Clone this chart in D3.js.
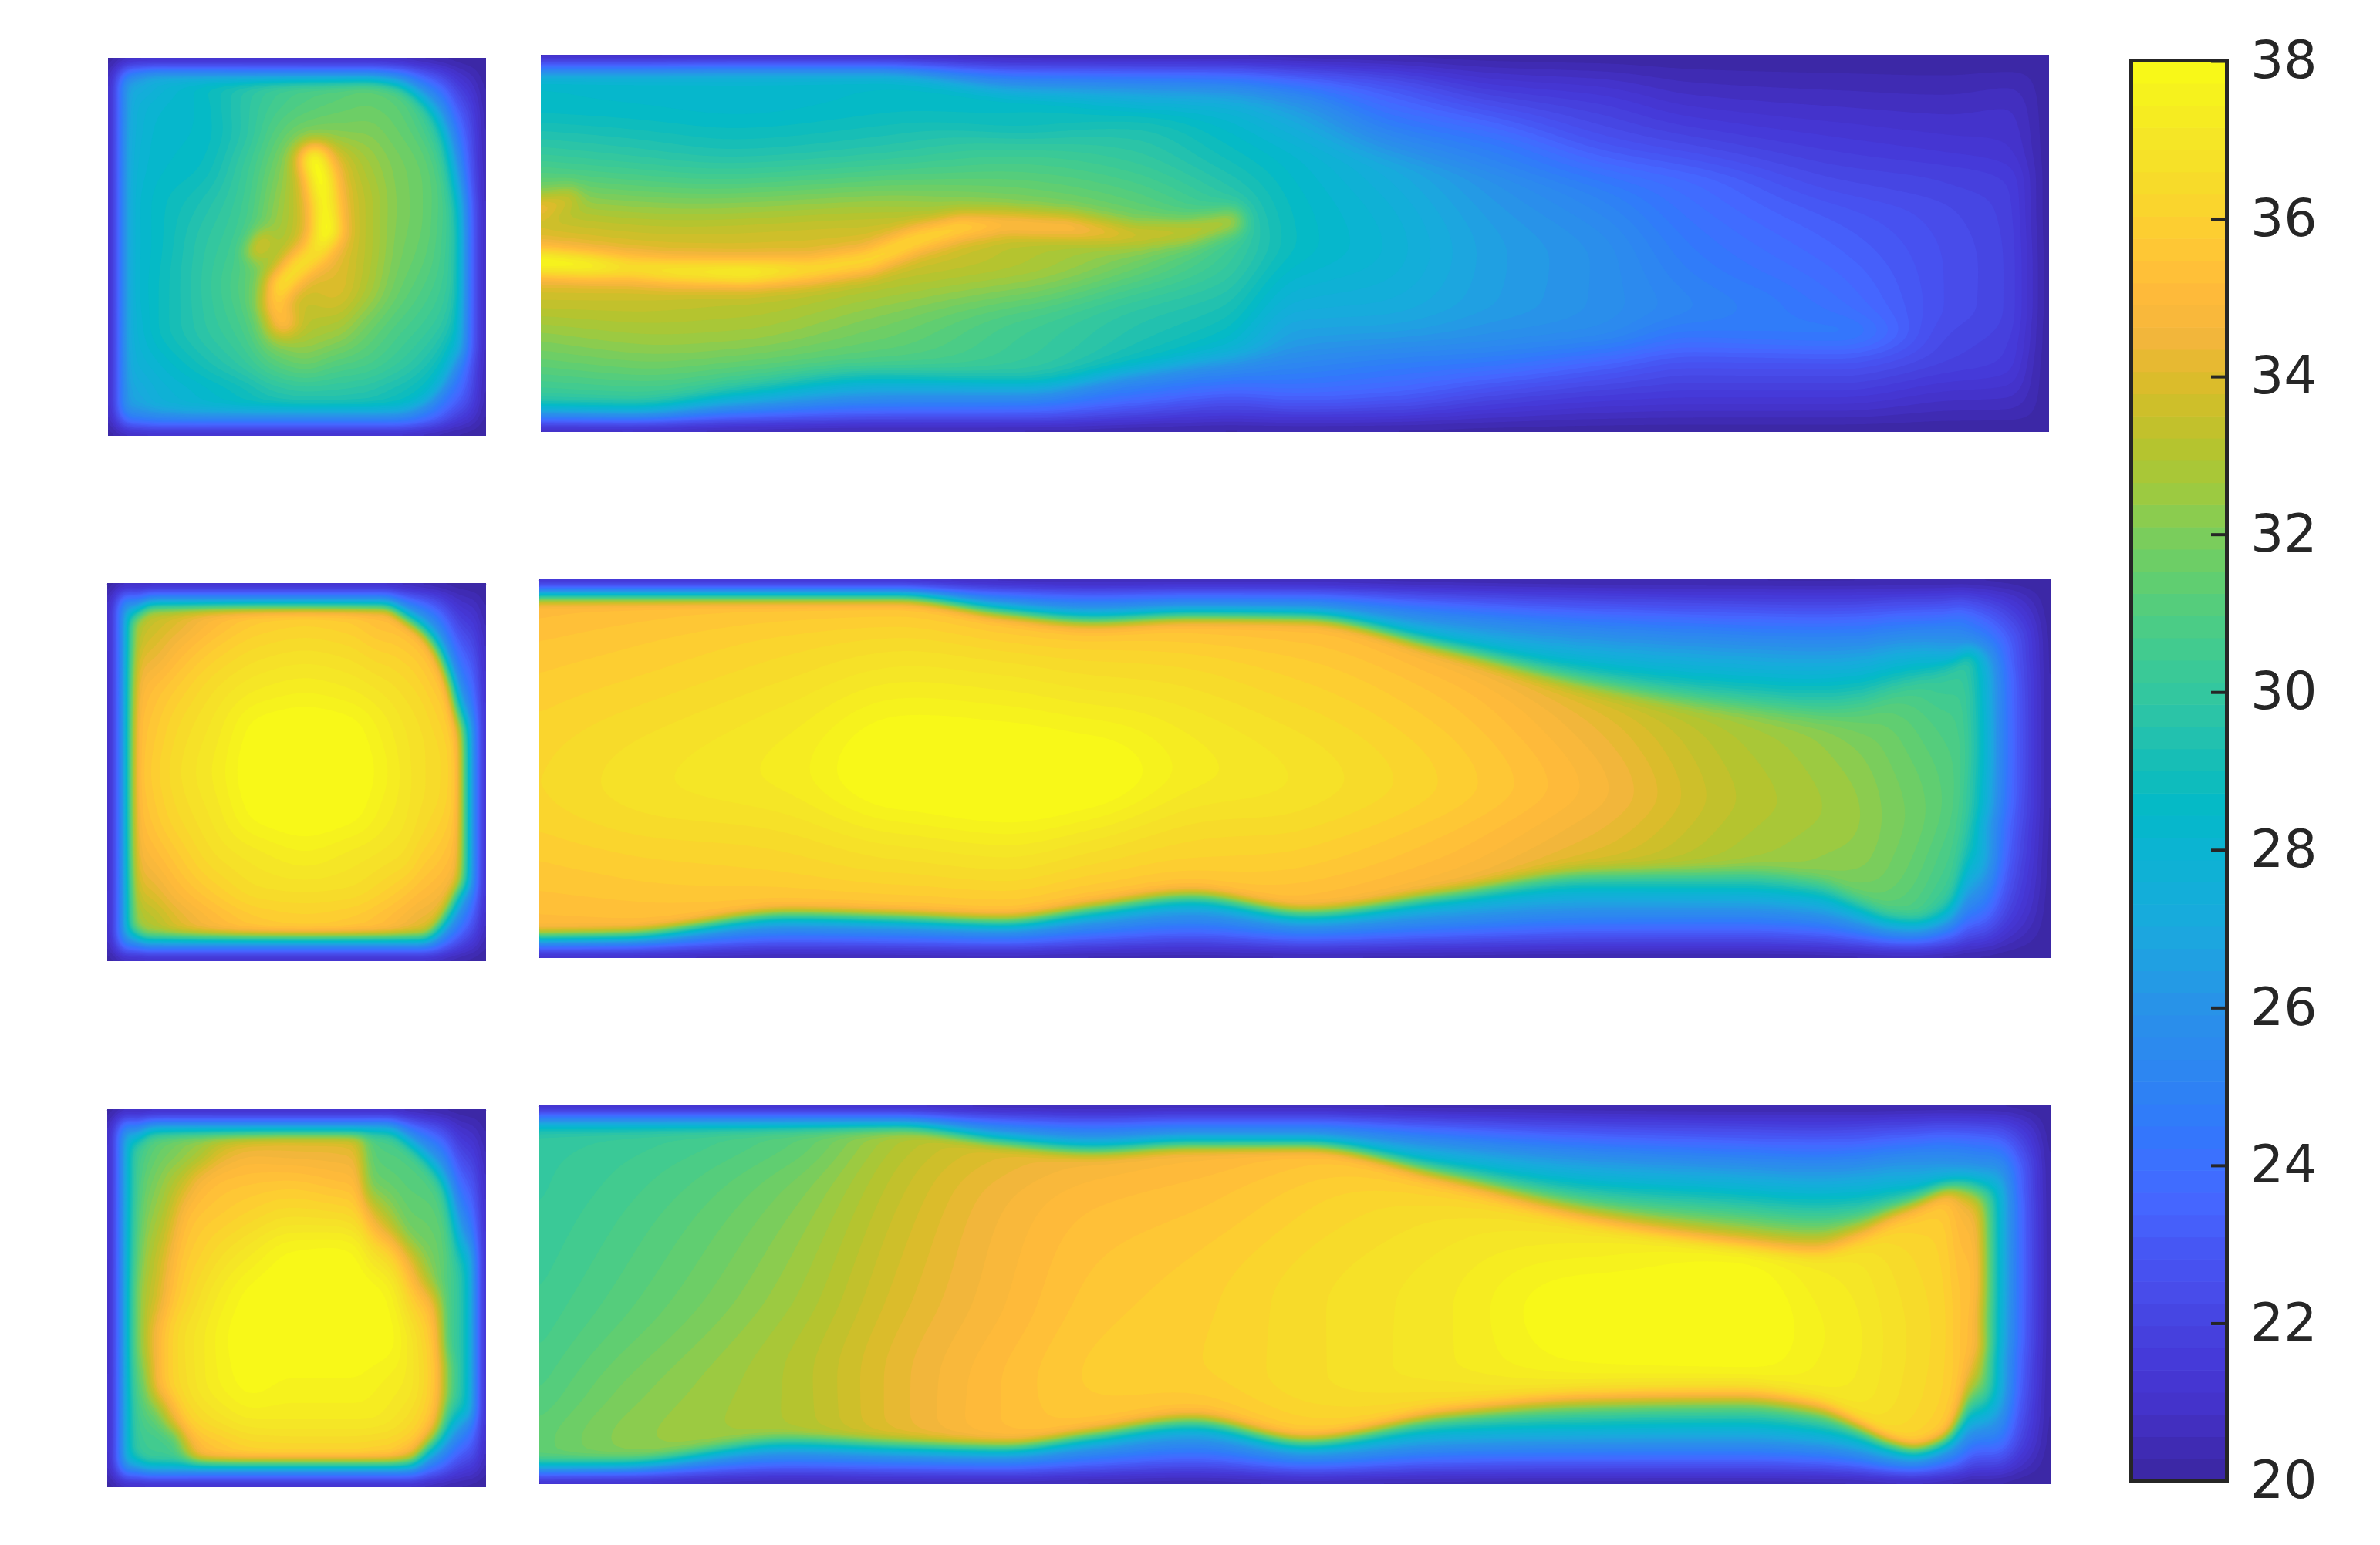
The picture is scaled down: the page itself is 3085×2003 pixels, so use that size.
<!DOCTYPE html>
<html><head><meta charset="utf-8">
<script src="https://cdn.jsdelivr.net/npm/d3@7"></script>
<style>html,body{margin:0;padding:0;background:#fff}svg{display:block}</style>
</head><body>
<svg id="c" width="3085" height="2003"></svg>
<script>
// colour map
const cmapValues=[20,20.5,21,21.5,22,22.5,23,23.5,24,24.5,25,26,27,28,28.5,29,29.5,30,30.5,31,31.5,32,32.5,33,33.5,34,34.5,35,35.5,36,36.5,37,37.5,38];
const cmapColors=["#3a27a0","#402cb6","#4433cc","#4539d8","#4644e0","#484eed","#4658f5","#4566ff","#3d70ff","#3179fb","#2e83f3","#2992e8","#1aa9de","#0bb4d2","#02b9c8","#12bdb9","#25c2ad","#33c79f","#40cb90","#50cd80","#65ce6d","#7ccd5a","#9bca42","#b2c530","#c8c02a","#dfbb2b","#f3b63c","#feb93a","#ffc437","#fcd12f","#f7dc2a","#f5e626","#f6f01e","#f9fb15"];
const tickLabels=[20,22,24,26,28,30,32,34,36,38];

// row layouts across each panel (fractions between the walls)
const rowsNarrow=[0,.06,.2,.55,.8,.94,1];
const rowsFine=[0,.06,.14,.25,.37,.5,.62,.75,.87,.94,1];

// top right panel
const aX=[0,60,130,221,319,390,449,499,560,627,700,758,855,927,968,987,994];
const aTop=[17,17,17,17,31,33,35,40,50,60,70,75,80,80,80,80,80];
const aBot=[230,231,222,215,217,205,195,190,190,190,190,190,190,190,190,190,190];
const aT=[
[20,23.7,27.3,28.4,28.5,29.8,34.3,32.2,30.6,29.5,28,24,20],
[20,23.7,27.3,28.3,28.4,29.5,34,32.5,30.8,29.5,28,24,20],
[20,24,27.3,28.3,28.3,29.1,33.8,32.7,31,29.3,27.8,24,20],
[20,24,27.3,28.4,28.5,29.4,33.8,32,30.8,28.6,27,23.8,20],
[20,24,27.3,28.6,28.8,30.5,33,30.5,30,28.6,26.5,23.5,20],
[20,24,27,28,29,30,32,29.8,29.2,28.5,26,23.3,20],
[20,24,26.8,27.7,28.3,29,30.5,29.4,28.6,28,26,23,20],
[20,23.5,26,26.7,27.3,28.2,28.7,27.7,26.8,26.4,25.5,23.5,20],
[20,22.8,24.3,25.1,25.8,27.2,27.8,27.3,26.6,26,25,23.2,20],
[20,21.8,23.7,24.6,25,26,26.6,26.5,26,25.6,24.6,22.3,20],
[20,21.5,22.7,23.6,24.1,25,25.8,25.8,25.5,25,23.7,21.7,20],
[20,21,22.3,23.2,23.6,24,24.7,25.1,24.5,24,22.9,21.5,20],
[20,20.8,21.7,22.2,22.4,22.9,23.6,24.1,24.6,24.2,23,21.5,20],
[20,20.7,21.4,21.9,22,22.3,22.5,22.5,22.3,22.2,22,21,20],
[20,20.8,21.2,21.6,21.7,21.8,21.9,21.9,21.8,21.7,21.6,20.9,20],
[20.1,20.3,20.4,20.5,20.5,20.5,20.6,20.6,20.5,20.5,20.4,20.3,20.1],
[20,20,20,20,20,20,20,20,20,20,20,20,20]];
const aStreak=[[0,137,38.3],[27,139,38],[59,141,36.8],[85,143,37.2],[134,144,37.8],[176,142,36.6],[215,136,36.5],[247,122,36.4],[276,114,36.2],[306,112,35.2],[348,114,35.2],[390,119,33.8],[426,117,33.5],[455,110,33]];
const aSpot=[[0,101,34.6],[18,95,33.6]];

// middle right panel
const bX=[0,55,165,235,305,365,430,505,596,694,791,842,870,890,907,927,936,942,952,968,996];
const bTop=[13,13,13,13,24,30,27,28,50,76,92,96,90,80,72,63,58,52,52,52,52];
const bBot=[233,232,217,219,222,213,204,216,203,188,187,194,208,218,221,213,196,160,160,160,160];
const bT=[
[20,24,28.5,34.8,35.2,35.7,36.3,35.7,35.2,34.8,28.5,24,20],
[20,24,28.5,34.9,35.4,35.9,36.7,35.9,35.3,34.8,28.5,24,20],
[20,24,28.5,35,35.7,36.4,37.3,36.4,35.7,35,28.5,24,20],
[20,24,28.5,35,35.8,36.8,38.2,36.8,35.8,35,28.5,24,20],
[20,24,28.5,34.9,35.8,36.9,38.3,36.9,35.8,34.9,28.5,24,20],
[20,24,28.5,34.8,35.8,36.7,38.1,36.7,35.7,34.9,28.5,24,20],
[20,24,28.5,34.9,35.6,36.4,37.3,36.4,35.7,35,28.5,24,20],
[20,24,28.5,34.9,35.4,36,36.8,36,35.3,34.8,28.5,24,20],
[20,24.5,28.8,34.5,35,35.5,36,35.4,34.9,34.5,28.8,24.4,20],
[20,25,29.3,33.6,34,34.4,34.8,34.4,34,33.6,29.3,24.8,20],
[20,25.2,29.5,32.6,32.8,33,33.2,33,32.8,32.6,29.5,24.8,20],
[20,25.2,29.5,32,32.3,32.5,32.7,32.5,32.3,32,29.3,24.8,20],
[20,25,29.2,31.3,31.7,32.1,32.4,32.2,31.8,31.4,29,24.6,20],
[20,24.8,28.9,30.9,31.3,31.7,32,31.8,31.4,30.9,28.8,24.4,20],
[20,24.5,28.5,30.5,30.9,31.3,31.7,31.4,31,30.7,28.5,24.2,20],
[20,24.1,27.5,30,30.3,30.8,31.2,30.8,30.4,30,28.5,24,20],
[20,24,26.8,30,30.2,30.6,30.9,30.6,30.3,30,28.5,24.6,20],
[20,23.5,26.3,29.8,29.9,30.1,30.3,30.1,30,29.8,29,25.5,20],
[20,23,25.5,27.5,28,28.3,28.5,28.3,28,27.5,27.5,24.8,20],
[20,22,23.5,23.8,24,24.2,24.3,24.2,24,23.8,23.5,22.3,20],
[20,20,20,20,20,20,20,20,20,20,20,20,20]];

// bottom right panel
const cX=[0,55,165,235,305,365,430,505,596,694,791,842,870,890,907,927,938,946,962,975,996];
const cTop=[16,16,16,16,27,33,29,29,50,75,90,95,88,78,70,60,57,55,55,55,55];
const cBot=[234,233,217,220,222,213,203,218,200,190,188,195,208,219,224,217,200,165,165,165,165];
const cT=[
[20,24,28,29.8,30,30.1,30.5,31,31.4,31.3,28.3,24,20],
[20,24,28,30,30.3,30.6,31.2,31.9,32.2,31.9,28.4,24,20],
[20,24,28.2,31,31.3,31.9,32.6,33,33,32.8,28.5,24,20],
[20,24,28.4,32.6,33,33.4,33.9,34.2,34.2,33.7,28.5,24,20],
[20,24,28.5,33.8,34.2,34.6,34.9,35.2,35.2,34.6,28.5,24,20],
[20,24,28.5,34.4,34.8,35.2,35.6,35.8,35.6,34.9,28.5,24,20],
[20,24,28.5,34.6,35,35.4,35.9,36,35.7,35,28.5,24,20],
[20,24,28.5,35,35.5,36,36.5,36.5,36,35.2,28.8,24.2,20],
[20,24.7,29.5,35,36,36.7,37.1,37.1,36.5,35.5,30,24.8,20],
[20,25.2,30.3,35,36.7,37.4,38.1,37.8,37,35.6,31,25.4,20],
[20,25.4,31,35,37.3,37.9,38.2,37.9,37,35.8,31,25.5,20],
[20,25.4,31,35,36.9,37.3,37.5,37.4,37,35.8,31,25.4,20],
[20,25.2,30.5,35.4,36.6,37,37.2,37.1,36.7,35.8,30.2,25,20],
[20,25,29.8,35.4,36.2,36.6,36.8,36.7,36.4,35.7,29.5,24.8,20],
[20,24.7,29,35.2,35.9,36.3,36.5,36.4,36.1,35.3,29,24.5,20],
[20,24.3,28,35,35.6,35.9,36.1,36,35.7,35,28.6,24.2,20],
[20,24,27.5,33,34.5,35,35.4,35.4,35,34.5,28.6,24.7,20],
[20,23.8,27,31,33.5,34.8,35.3,35,35,34.5,33,25.8,20],
[20,23.5,26.5,28,28.5,28.6,28.7,28.6,28.5,28.2,28.2,25.2,20],
[20,22.3,23.8,24,24.2,24.3,24.4,24.3,24.2,24,23.8,22.6,20],
[20,20,20,20,20,20,20,20,20,20,20,20,20]];

// top left panel
const dX=[0,7,13,17,30,60,90,110,130,150,170,190,209,223,232,238,244,249];
const dTop=[17,17,17,19,17,17,17,17,17,17,17,20,35,60,99,99,99,99];
const dBot=[231,231,231,231,231,231,231,231,231,231,231,231,225,210,190,190,190,190];
const dT=[
[20,20,20,20,20,20,20,20,20,20,20,20,20,20,20,20,20],
[20,22,23.5,24,24,24,24,24,24,24,24,24,24,24,23.5,22,20],
[20,23.5,26,27,27.2,27.4,27.5,27.5,27.5,27.5,27.5,27.3,27,26.6,25.5,23.5,20],
[20,24,26.5,27,27.5,27.6,27.8,28,28,28,27.8,27.5,27,26.5,25.5,23.5,20],
[20,24,27.5,27.5,28,28.2,28.3,28.5,28.5,28.6,28.6,28,27.6,27.3,26,24,20],
[20,24,27.7,28.6,28.5,28.5,28.7,29.3,29.7,29.8,29.7,29,28.3,28,26.5,24,20],
[20,24,27.7,29.5,29.7,29.7,30.2,30.5,30.8,31.2,30.8,30,29,28.5,26.5,24,20],
[20,24,27.7,30.2,30.5,31,31.7,32.2,32.5,32.6,32.4,31,29.7,28.7,26.5,24,20],
[20,24,27.7,30.6,31,31.8,33.2,33.5,33.5,33.5,33,31.5,30,28.8,26.5,24,20],
[20,24,27.7,30.8,31.3,32,33.8,34,34,34,32.8,31,29.9,28.8,26.5,24,20],
[20,24,27.7,31.2,31.5,32,32.8,33.2,33.2,33,31.8,30.7,29.7,28.8,26.5,24,20],
[20,24,27.8,30.8,31.3,31.6,32,32.1,32,31.7,30.9,30.1,29.2,28.5,26.3,24,20],
[20,24,27.8,30.3,30.6,31.2,31.5,31.5,31.3,30.9,30.3,29.5,28.8,28.1,26,23.8,20],
[20,24,27.3,29.3,29.9,30.3,30.6,30.5,30.4,30.2,29.8,29,28.4,27.6,25.5,23.5,20],
[20,23.5,26.5,28.3,28.6,28.8,29,29,29,28.9,28.6,28.4,28.1,27.8,25.5,23.3,20],
[20,22.3,23.4,24,24,24.1,24.1,24.1,24.1,24.1,24.1,24,24,24,23.4,22.3,20],
[20,21.3,21.8,22.2,22.3,22.3,22.3,22.3,22.3,22.3,22.3,22.3,22.3,22.2,21.8,21.3,20],
[20,20,20,20,20,20,20,20,20,20,20,20,20,20,20,20,20]];
const dStreak=[[136,67,38.4],[140,79,38.4],[143,97,37.9],[144,114,38.4],[137,128,36.8],[125,138,36.8],[114,150,36.8],[111,162,35.7],[115,174,35.4]];
const dSpot=[[102,121,34],[98,127,34]];

// middle left panel
const eX=[0,7,13,17,22,29,45,70,100,130,160,183,197,209,218,226,233,237,244,249];
const eTop=[17,17,17,26,20,17,17,17,17,17,17,17,26,36,50,72,99,99,99,99];
const eBot=[232,232,232,226,232,232,232,232,232,232,232,232,232,232,224,210,196,196,196,196];
const eT=[
[20,20,20,20,20,20,20,20,20,20,20,20,20,20,20,20,20],
[20,22,23.5,24,24,24,24,24,24,24,24,24,24,24,23.5,22,20],
[20,24,27,28.5,28.6,28.6,28.7,28.7,28.7,28.7,28.7,28.6,28.6,28.5,27,24,20],
[20,24,27.8,32.7,33.1,33.8,34.5,35,35.1,34.9,34.4,33.5,32.8,32.3,28,24,20],
[20,24,28.5,32.9,33.4,34.1,34.9,35.3,35.4,35.2,34.7,33.8,33,32.4,28.5,24,20],
[20,24,28.5,33,33.6,34.2,35.2,35.6,35.8,35.6,35,34,33.2,32.6,28.5,24,20],
[20,24,28.5,33.5,34.2,35,35.8,36.3,36.5,36.3,35.7,34.9,34.1,33.5,28.5,24,20],
[20,24,28.5,34.5,35.2,35.9,36.6,37,37.2,37,36.6,35.8,35.1,34.5,28.5,24,20],
[20,24,28.5,35.2,35.9,36.5,37.2,37.9,38.05,37.9,37.1,36.5,35.8,35.2,28.5,24,20],
[20,24,28.5,35.4,36.1,36.7,37.4,38.05,38.1,38.05,37.4,36.6,36,35.4,28.5,24,20],
[20,24,28.5,35.2,35.9,36.5,37.2,37.9,38.05,37.9,37.1,36.5,35.8,35.2,28.5,24,20],
[20,24,28.5,34.8,35.4,36.1,36.8,37.3,37.5,37.3,36.8,36,35.3,34.8,28.5,24,20],
[20,24,28.5,34.8,35.5,36.1,36.6,36.9,37,36.9,36.5,35.5,34.8,34.1,28.5,24,20],
[20,24,28.3,34.9,35.4,35.9,36.4,36.6,36.6,36.4,35.8,35,34.3,33.6,28.5,24,20],
[20,24,28,35,35.3,35.7,36.1,36.4,36.4,36.1,35.6,34.9,34.3,33.8,28.4,24.5,20],
[20,23.5,27.5,35.3,35.5,35.7,35.9,36,35.9,35.7,35.3,34.9,34.5,34,28.4,24.5,20],
[20,23,27,33.8,34.6,35,35.1,35.2,35.2,35.1,35,34.7,34.2,33.5,28,24.2,20],
[20,22.6,25.5,28.5,28.6,28.7,28.7,28.7,28.7,28.7,28.7,28.7,28.6,28.5,26,23,20],
[20,22,23.5,24,24,24.1,24.1,24.1,24.1,24.1,24.1,24.1,24,24,23.5,22,20],
[20,20,20,20,20,20,20,20,20,20,20,20,20,20,20,20,20]];

// bottom left panel
const fX=[0,7,13,17,24,32,38,44,50,60,75,95,120,150,165,172,185,200,212,218,224,233,238,244,249];
const fTop=[17,17,17,26,19,17,17,17,17,17,17,17,17,17,17,17,17,28,41,50,62,101,101,101,101];
const fBot=[232,232,232,227,232,232,232,232,232,232,232,232,232,232,232,232,232,232,222,217,208,198,198,198,198];
const fT=[
[20,20,20,20,20,20,20,20,20,20,20,20,20,20,20,20,20],
[20,22,23.5,24,24,24,24,24,24,24,24,24,24,24,23.5,22,20],
[20,24,27,28.5,28.6,28.6,28.7,28.7,28.7,28.7,28.7,28.6,28.6,28.5,27,24,20],
[20,24,27.8,30,30.2,30.2,30.4,30.8,31.3,31.3,30.8,30.2,30,29.5,27.8,24,20],
[20,24,28.3,30.5,31,31.5,32,32.5,33,33,32,31,30.5,30.3,28.2,24,20],
[20,24,28.5,31,31.5,32,32.6,33.3,33.7,34.8,34.8,31.5,30.5,30.3,28.3,24,20],
[20,24,28.5,31.2,31.8,32.5,33.2,34,34.8,35.6,35.6,33,30.8,30.3,28.4,24,20],
[20,24,28.5,31.5,32,33,34,35,35.6,36.2,36.2,34.5,31,30.3,28.5,24,20],
[20,24,28.5,31.8,32.3,33.5,35,35.6,36,36.6,36.5,35.7,33.5,30.8,28.5,24,20],
[20,24,28.5,32,32.8,34.6,35.5,36,36.6,37,37,36.3,35.3,34,28.5,24,20],
[20,24,28.5,32.5,34,35.2,35.8,36.6,37.3,37.6,37.5,36.8,35.8,35,28.5,24,20],
[20,24,28.5,33,34.6,35.4,36.2,37.2,37.9,38.05,37.9,37.2,36.3,35.2,28.5,24,20],
[20,24,28.5,33.5,34.5,35.5,36.6,37.8,38.1,38.1,37.7,37.2,36.4,35.2,28.5,24,20],
[20,24,28.5,33.5,34.4,35.2,36.5,37.9,38.1,38.1,37.7,37.2,36.4,35.2,28.5,24,20],
[20,24,28.5,33,34.2,35,36.2,37.7,38.1,38.05,37.7,37.2,36.4,35.2,28.5,24,20],
[20,24,28.5,31,31.5,32,34.8,37,38,38,37.6,37.2,36.3,35.1,28.5,24,20],
[20,24,28.3,30.5,31,31.5,33,36.2,37.7,37.9,37.4,37,36.2,35,28.5,24,20],
[20,24,27.8,30.7,31,31.3,31.8,34.5,36.2,37,37,36.4,35.6,33,28,24,20],
[20,24,27.5,30.8,31,31.4,31.7,32.5,35.2,35.8,36,35.7,35,31.5,27.5,24,20],
[20,24,27.5,30.8,31,31.3,31.6,31.8,34,35,35.3,35,34,30.5,27.5,24,20],
[20,23.8,27.3,30.3,30.6,31,31,31,30.8,30.8,32,32,30.5,29.5,27.3,23.8,20],
[20,23,26.5,29,29.5,29.7,29.8,29.9,29.9,29.9,29.8,29.7,29.5,29,26.5,23,20],
[20,22.6,25.5,28.3,28.5,28.6,28.6,28.6,28.6,28.6,28.6,28.6,28.5,28.3,25.5,22.6,20],
[20,22,23.5,24,24,24.1,24.1,24.1,24.1,24.1,24.1,24.1,24,24,23.5,22,20],
[20,20,20,20,20,20,20,20,20,20,20,20,20,20,20,20,20]];

const panels=[
 {box:[140,75,630,565],w:249,h:249,xs:dX,top:dTop,bot:dBot,T:dT,rows:rowsFine,ridges:[{pts:dStreak,s:7},{pts:dSpot,s:5}]},
 {box:[701,71,2656,560],w:994,h:249,xs:aX,top:aTop,bot:aBot,T:aT,rows:rowsNarrow,ridges:[{pts:aStreak,s:6},{pts:aSpot,s:5}]},
 {box:[139,756,630,1246],w:249,h:249,xs:eX,top:eTop,bot:eBot,T:eT,rows:rowsFine,ridges:[]},
 {box:[699,751,2658,1242],w:996,h:249,xs:bX,top:bTop,bot:bBot,T:bT,rows:rowsNarrow,ridges:[]},
 {box:[139,1438,630,1928],w:249,h:249,xs:fX,top:fTop,bot:fBot,T:fT,rows:rowsFine,ridges:[]},
 {box:[699,1433,2658,1924],w:996,h:249,xs:cX,top:cTop,bot:cBot,T:cT,rows:rowsNarrow,ridges:[]}
];

const color=d3.scaleLinear().domain(cmapValues).range(cmapColors).clamp(true);
const nLevels=64, lo=20, hi=38, dv=(hi-lo)/nLevels;
const levels=d3.range(nLevels).map(k=>lo+k*dv);
const svg=d3.select("#c");

// monotone cubic through data rows
function mono(xs,ys){
  const n=xs.length,h=[],d=[],m=new Array(n);
  for(let i=0;i<n-1;i++){h[i]=xs[i+1]-xs[i];d[i]=(ys[i+1]-ys[i])/h[i];}
  m[0]=d[0];m[n-1]=d[n-2];
  for(let i=1;i<n-1;i++){
    if(d[i-1]*d[i]<=0)m[i]=0;
    else{const a=h[i-1]+2*h[i],b=2*h[i-1]+h[i];m[i]=(a+b)/(a/d[i-1]+b/d[i]);}
  }
  return x=>{
    let i=d3.bisectRight(xs,x)-1;i=Math.max(0,Math.min(n-2,i));
    const t=Math.max(0,Math.min(1,(x-xs[i])/h[i])),t2=t*t,t3=t2*t;
    return (2*t3-3*t2+1)*ys[i]+(t3-2*t2+t)*h[i]*m[i]+(-2*t3+3*t2)*ys[i+1]+(t3-t2)*h[i]*m[i+1];
  };
}

function ridgeAt(r,x,y){
  let best=1e9,peak=0;const p=r.pts;
  for(let i=0;i<p.length-1;i++){
    const ax=p[i][0],ay=p[i][1],bx=p[i+1][0],by=p[i+1][1];
    const vx=bx-ax,vy=by-ay;
    let t=((x-ax)*vx+(y-ay)*vy)/(vx*vx+vy*vy);t=Math.max(0,Math.min(1,t));
    const dx=x-ax-t*vx,dy=y-ay-t*vy,q=dx*dx+dy*dy;
    if(q<best){best=q;peak=p[i][2]+t*(p[i+1][2]-p[i][2]);}
  }
  return [best,peak];
}

const step=3;
panels.forEach(p=>{
  const [x0,y0,x1,y1]=p.box;
  const X=d3.scaleLinear().domain([0,p.w]).range([x0,x1]);
  const Y=d3.scaleLinear().domain([0,p.h]).range([y0,y1]);
  const nx=Math.ceil((x1-x0)/step)+1, ny=Math.ceil((y1-y0)/step)+1;
  const nR=p.rows.length+6;
  const rowFns=d3.range(nR).map(r=>mono(p.xs,p.T.map(c=>c[r])));
  const topFn=mono(p.xs,p.top), botFn=mono(p.xs,p.bot);
  const grid=new Float64Array(nx*ny);
  for(let i=0;i<nx;i++){
    const ux=X.invert(x0+i*(x1-x0)/(nx-1));
    const t=topFn(ux),b=botFn(ux);
    const ys=[0,.4*t,.8*t,...p.rows.map(f=>t+f*(b-t)),b+.2*(p.h-b),b+.6*(p.h-b),p.h];
    const vs=rowFns.map(f=>f(ux));
    const col=mono(ys,vs);
    for(let j=0;j<ny;j++){
      const uy=Y.invert(y0+j*(y1-y0)/(ny-1));
      let v=col(uy);
      for(const r of p.ridges){
        const [q,pk]=ridgeAt(r,ux,uy);
        if(pk>v) v+=(pk-v)*Math.exp(-q/(2*r.s*r.s));
      }
      grid[i+j*nx]=v;
    }
  }
  if(d3.blur2) d3.blur2({data:grid,width:nx,height:ny},2);
  const g=svg.append("g").attr("transform",`translate(${x0},${y0}) scale(${(x1-x0)/nx},${(y1-y0)/ny})`);
  g.append("rect").attr("width",nx).attr("height",ny).attr("fill",color(lo+dv/2));
  const contours=d3.contours().size([nx,ny]).thresholds(levels)(grid);
  const path=d3.geoPath();
  g.selectAll("path").data(contours).join("path")
    .attr("d",path).attr("fill",d=>color(d.value+dv/2));
});

// colour bar
const barX0=2765, barX1=2884;
const barY=d3.scaleLinear().domain([lo,hi]).range([1920,79]);
svg.append("g").selectAll("rect").data(levels).join("rect")
  .attr("x",barX0).attr("width",barX1-barX0)
  .attr("y",d=>barY(d+dv)).attr("height",d=>barY(d)-barY(d+dv)+0.6)
  .attr("fill",d=>color(d+dv/2));
svg.append("rect").attr("x",2762.5).attr("y",78.5).attr("width",124).attr("height",1842)
  .attr("fill","none").attr("stroke","#262626").attr("stroke-width",5);
const ax=d3.axisRight(barY).tickValues(tickLabels).tickSize(-18).tickPadding(33).tickFormat(d3.format("d"));
const axisG=svg.append("g").attr("transform","translate(2884,0)").call(ax);
axisG.select(".domain").remove();
axisG.selectAll(".tick line").attr("stroke","#262626").attr("stroke-width",4);
axisG.selectAll("text").attr("fill","#262626").style("font-family","'DejaVu Sans'").style("font-size","68px");
</script>
</body></html>
